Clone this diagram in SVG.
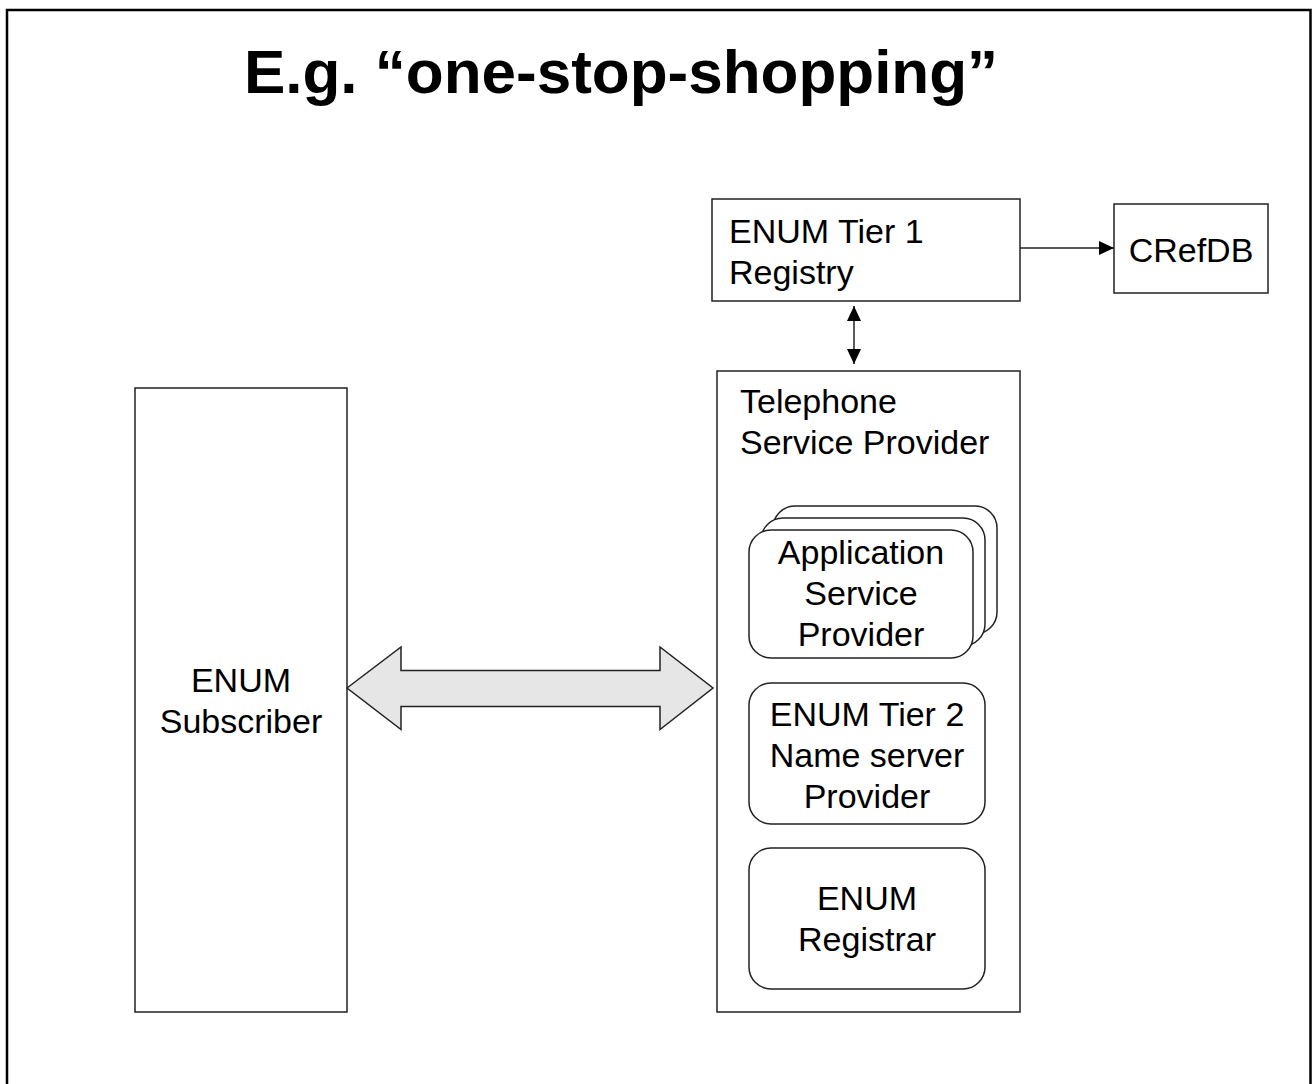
<svg xmlns="http://www.w3.org/2000/svg" width="1313" height="1084" viewBox="0 0 1313 1084">
<style>
.box{fill:#fff;stroke:#222;stroke-width:1.5}
.t{font-family:"Liberation Sans",Arial,sans-serif;font-size:34px;fill:#000}
.c{text-anchor:middle}
.title{font-family:"Liberation Sans",Arial,sans-serif;font-size:62px;font-weight:bold;fill:#000;text-anchor:middle}
.conn{stroke:#222;stroke-width:1.5;fill:none}
</style>
<defs>
<marker id="ah" viewBox="0 0 15 14" refX="15" refY="7" markerWidth="15" markerHeight="14" markerUnits="userSpaceOnUse" orient="auto-start-reverse">
<path d="M0,0 L15,7 L0,14 z" fill="#000"/>
</marker>
</defs>
<rect x="0" y="0" width="1313" height="1084" fill="#fff"/>
<rect x="7" y="10" width="1303.5" height="1090" fill="none" stroke="#000" stroke-width="2.5"/>
<text class="title" x="621" y="93">E.g. “one-stop-shopping”</text>

<g id="subscriber">
<rect class="box" x="135" y="388" width="212" height="624"/>
<text class="t c" x="241" y="692">ENUM</text>
<text class="t c" x="241" y="733">Subscriber</text>
</g>

<g id="tier1">
<rect class="box" x="712" y="199" width="308" height="102"/>
<text class="t" x="729" y="243">ENUM Tier 1</text>
<text class="t" x="729" y="284">Registry</text>
</g>

<g id="crefdb">
<rect class="box" x="1114" y="204" width="154" height="89"/>
<text class="t c" x="1191" y="262">CRefDB</text>
</g>

<g id="tsp">
<rect class="box" x="717" y="371" width="303" height="641"/>
<text class="t" x="740" y="413">Telephone</text>
<text class="t" x="740" y="454">Service Provider</text>
</g>

<g id="asp">
<rect class="box" x="773" y="506" width="224" height="128" rx="22" ry="22"/>
<rect class="box" x="761" y="518" width="224" height="128" rx="22" ry="22"/>
<rect class="box" x="749" y="530" width="224" height="128" rx="22" ry="22"/>
<text class="t c" x="861" y="564">Application</text>
<text class="t c" x="861" y="605">Service</text>
<text class="t c" x="861" y="646">Provider</text>
</g>

<g id="tier2">
<rect class="box" x="749" y="683" width="236" height="141" rx="22" ry="22"/>
<text class="t c" x="867" y="726">ENUM Tier 2</text>
<text class="t c" x="867" y="767">Name server</text>
<text class="t c" x="867" y="808">Provider</text>
</g>

<g id="registrar">
<rect class="box" x="749" y="848" width="236" height="141" rx="22" ry="22"/>
<text class="t c" x="867" y="910">ENUM</text>
<text class="t c" x="867" y="951">Registrar</text>
</g>

<g id="connectors">
<line class="conn" x1="1020" y1="248" x2="1114" y2="248" marker-end="url(#ah)"/>
<line class="conn" x1="854" y1="306" x2="854" y2="364" marker-start="url(#ah)" marker-end="url(#ah)"/>
<polygon points="347,688 401,647 401,670.5 660,670.5 660,647 713,688 660,729.5 660,706.5 401,706.5 401,729.5" fill="#e6e6e6" stroke="#222" stroke-width="1.5" stroke-linejoin="miter"/>
</g>
</svg>
